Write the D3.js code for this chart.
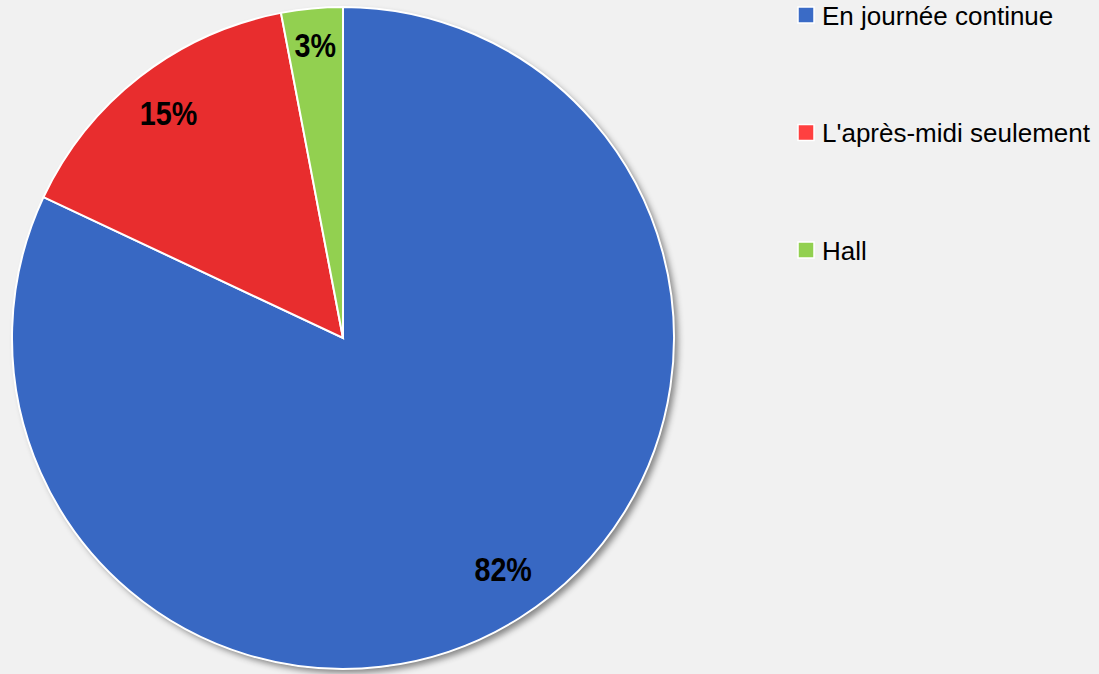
<!DOCTYPE html>
<html>
<head>
<meta charset="utf-8">
<script src="https://cdn.jsdelivr.net/npm/d3@7"></script>
<style>
	body { margin: 0; background: #f1f1f1; }
	svg { display: block; }
	text { font-family: "Liberation Sans", Arial, sans-serif; }
</style>
</head>
<body>
<div id="chart"></div>
<script>
const categories = ["En journée continue", "L'après-midi seulement", "Hall"];
const values = [82, 15, 3];
const sliceColours = ["#3868c3", "#e82d2e", "#92d050"];
const legendColours = ["#3a6bc6", "#ff4040", "#92d050"];

const width = 1099;
const height = 674;
const cx = 343;
const cy = 338;
const radius = 331;
const narrow = 0.87; // squeeze for the bold data labels
const labelRadius = [0.85, 0.86, 0.89];

const svg = d3.select("#chart")
	.append("svg")
	.attr("width", width)
	.attr("height", height);

const defs = svg.append("defs");
defs.append("filter")
	.attr("id", "shadow")
	.attr("x", "-10%").attr("y", "-10%")
	.attr("width", "130%").attr("height", "130%")
	.append("feDropShadow")
	.attr("dx", 4)
	.attr("dy", 4)
	.attr("stdDeviation", 3)
	.attr("flood-color", "#000")
	.attr("flood-opacity", 0.45);

const pie = d3.pie().sort(null).value((d) => d);
const arcs = pie(values);

const arc = d3.arc().innerRadius(0).outerRadius(radius);

const g = svg.append("g").attr("transform", `translate(${cx},${cy})`);

// shadow behind the whole pie
g.append("circle")
	.attr("r", radius)
	.attr("fill", "#fff")
	.attr("filter", "url(#shadow)");

g.selectAll(".slice")
	.data(arcs)
	.enter()
	.append("path")
	.attr("class", "slice")
	.attr("d", arc)
	.attr("fill", (d, i) => sliceColours[i])
	.attr("stroke", "#fff")
	.attr("stroke-width", 2);

g.selectAll(".slice-label")
	.data(arcs)
	.enter()
	.append("text")
	.attr("class", "slice-label")
	.attr("transform", (d, i) => {
		const r = radius * labelRadius[i];
		// nudge the big slice's label a little clockwise-back, as in the original
		const c = d3.arc().innerRadius(r).outerRadius(r)
			.startAngle(d.startAngle).endAngle(d.endAngle - (i === 0 ? 0.08 : 0)).centroid();
		return `translate(${c}) scale(${narrow},1)`;
	})
	.attr("text-anchor", "middle")
	.attr("dy", "0.36em")
	.attr("font-size", 33)
	.attr("font-weight", 700)
	.attr("fill", "#000")
	.text((d) => `${d.data}%`);

// Legend
const legend = svg.append("g").attr("transform", "translate(798,0)");
const rows = legend.selectAll(".row")
	.data(categories)
	.enter()
	.append("g")
	.attr("class", "row")
	.attr("transform", (d, i) => `translate(0,${15 + i * 117.5})`);

rows.append("rect")
	.attr("x", 0)
	.attr("y", -8)
	.attr("width", 16)
	.attr("height", 16)
	.attr("fill", (d, i) => legendColours[i])
	.attr("stroke", "#fff")
	.attr("stroke-width", 1.5);

rows.append("text")
	.attr("x", 24)
	.attr("dy", "0.38em")
	.attr("font-size", 26)
	.attr("fill", "#000")
	.text((d) => d);
</script>
</body>
</html>
